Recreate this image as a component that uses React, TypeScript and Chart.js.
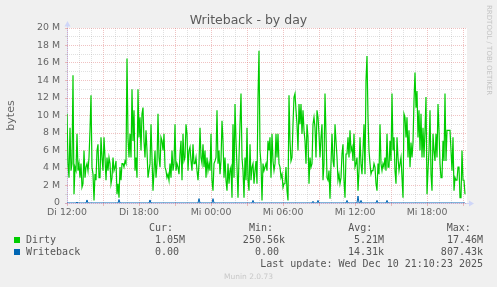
import React, { useEffect, useRef } from 'react';
import { Chart, registerables } from 'chart.js';

Chart.register(...registerables);

// Dirty memory (in M bytes), one value per 5-minute step starting Di 12:00
const dirtySeg1 = [10.2,4.5,2.9,8.6,3.7,4.5,14.6,1.0,4.1,3.7,7.9,3.7,4.5,2.9,4.5,1.8,2.2,6.0,2.9,4.1,4.5,3.7,5.2,8.3,12.3,4.1,3.3,0.3,3.3,2.6,6.0,6.7,2.9,2.9,7.5,5.2,3.7,7.5,5.2,2.6,5.2,3.7,5.2,4.5,2.2,2.9,5.2,3.7,4.1,4.8,1.0,2.2,0.6,4.1,2.6,4.5,4.5,4.1,4.8,4.5,16.5,7.5,5.2];
const dirtySeg2 = [7.9,5.2,13.0,7.1,10.6,3.7,5.2,2.9,13.0,7.5,9.8,6.0,10.2,10.9,7.1,5.2,8.3,6.0,2.9,3.7,4.5,9.0,5.2,1.4,3.7,6.0,2.9,4.5,10.2,5.2,4.1,7.5,7.1,6.0,7.9,4.1,3.7,2.9,3.3,2.6,4.5,2.9,6.0,3.7,4.5,9.0,3.7,4.5,4.1,3.3,5.6,7.1,2.6,7.9,4.8,5.2,9.0,7.9,3.7,6.0,6.4,4.8,3.7,6.7,4.5,4.5,5.2,3.7];
const dirtySeg3 = [2.6,4.5,8.6,5.2,4.5,6.7,4.1,6.0,2.9,5.2,3.7,4.5,3.7,7.9,2.6,1.4,4.5,4.8,5.2,10.6,4.5,6.0,3.3,4.8,9.4,7.1,2.9,5.2,2.6,1.4,4.5,2.2,3.7,4.1,0.6,9.0,2.9,11.3,7.1,4.1,0.6,5.2,9.0,12.5,5.2,3.7,0.6,5.2,2.6,8.6,2.6,1.4,6.7,2.6,4.1,4.5,2.2,3.7,4.8,2.2,12.1,17.4,6.0,4.5,0.3,4.5,3.7,4.1];
const dirtySeg4 = [4.5,3.7,7.1,6.0,7.5,2.9,7.9,4.8,3.7,4.5,7.9,5.2,7.9,4.5,4.1,2.9,3.3,1.8,2.2,2.2,4.1,1.4,0.3,12.3,7.1,4.8,5.2,9.0,12.1,12.5,10.6,9.0,6.0,11.3,9.0,11.3,7.9,10.6,8.3,7.1,4.5,9.0,7.5,2.2,5.2,4.1,4.5,9.0,9.8,8.6,5.2,10.6,9.8,7.9,5.2,7.5,9.0,2.6,4.5,12.5,7.9,2.9,2.6,3.7,0.5,4.5,7.9,4.8];
const dirtySeg5 = [4.1,9.0,7.1,5.2,2.6,3.3,2.2,2.9,5.6,6.7,2.6,0.6,5.6,5.6,7.5,5.2,8.3,6.0,6.4,4.8,7.9,4.1,4.5,5.2,1.4,3.7,7.5,4.5,3.3,6.0,9.0,3.3,14.0,16.8,9.8,6.0,4.5,3.3,3.7,3.7,4.5,4.1,2.2,1.4,4.5,3.3,9.0,4.5,3.7,4.5,4.1,5.2,3.7,7.9,4.1,4.1,7.1,4.8,12.5,6.0,7.5,3.7,2.2,7.5,5.2,3.7,4.5,5.2];
const dirtySeg6 = [2.9,0.6,10.2,9.8,7.5,9.8,5.2,8.3,4.1,6.9,5.2,6.9,11.7,14.9,10.9,12.8,7.5,10.6,6.0,10.2,5.2,8.6,5.2,8.3,12.1,1.0,3.7,6.0,10.6,3.3,1.4,7.9,6.0,4.8,7.9,5.2,11.3,8.3,4.5,2.9,2.9,7.1,4.8,12.5,4.8,8.3,8.3,8.3,8.3,6.0,3.7,7.5,1.4,2.9,2.6,2.6,4.1,4.1,0.6,0.6,6.0,2.6,2.6,1.0];

// Writeback (in M bytes): zero except for these steps
const writebackSpikeIndex = [10, 20, 52, 83, 132, 146, 186, 246, 251, 280, 291, 294, 310, 320];
const writebackSpikeValue = [0.1, 0.35, 0.4, 0.35, 0.5, 0.5, 0.3, 0.2, 0.3, 0.3, 0.8, 0.3, 0.3, 0.3];

const xTickLabels = ['Di 12:00', 'Di 18:00', 'Mi 00:00', 'Mi 06:00', 'Mi 12:00', 'Mi 18:00'];
const stepsPerHour = 12;
const totalSteps = 400;
const yMax = 20;

const legendNames = ['Dirty', 'Writeback'];
const legendColors = ['#00cc00', '#0066b3'];
const legendCur = ['1.05M', '0.00'];
const legendMin = ['250.56k', '0.00'];
const legendAvg = ['5.21M', '14.31k'];
const legendMax = ['17.46M', '807.43k'];

const GRID_MAJOR = 'rgba(220,110,110,0.42)';
const GRID_MINOR = 'rgba(160,160,160,0.32)';
const AXIS = '#cfd6f8';
const FONT_COLOR = '#666666';

const muninPlugin = {
  id: 'munin',
  beforeDraw(chart: any) {
    const { ctx, chartArea: a } = chart;
    ctx.save();
    ctx.fillStyle = '#f0f0f0';
    ctx.fillRect(0, 0, chart.width, chart.height);
    ctx.fillStyle = '#ffffff';
    ctx.fillRect(a.left, a.top, a.right - a.left, a.bottom - a.top);
    // axes
    ctx.strokeStyle = AXIS;
    ctx.fillStyle = AXIS;
    ctx.lineWidth = 1;
    ctx.beginPath();
    ctx.moveTo(a.left - 2, a.bottom + 0.5);
    ctx.lineTo(a.right + 4, a.bottom + 0.5);
    ctx.moveTo(a.left + 0.5, a.bottom + 2);
    ctx.lineTo(a.left + 0.5, a.top - 3);
    ctx.stroke();
    ctx.beginPath();
    ctx.moveTo(a.right + 7, a.bottom + 0.5);
    ctx.lineTo(a.right + 2, a.bottom - 2.5);
    ctx.lineTo(a.right + 2, a.bottom + 3.5);
    ctx.closePath();
    ctx.fill();
    ctx.beginPath();
    ctx.moveTo(a.left + 0.5, a.top - 7);
    ctx.lineTo(a.left - 2.5, a.top - 1.5);
    ctx.lineTo(a.left + 3.5, a.top - 1.5);
    ctx.closePath();
    ctx.fill();
    ctx.restore();
  },
  afterDraw(chart: any) {
    const { ctx, chartArea: a } = chart;
    ctx.save();
    // title
    ctx.fillStyle = '#5a5a5a';
    ctx.font = '12.5px "DejaVu Sans"';
    ctx.textAlign = 'center';
    ctx.textBaseline = 'alphabetic';
    ctx.fillText('Writeback - by day', 248.5, 24);
    // y-axis title
    ctx.save();
    ctx.translate(11, (a.top + a.bottom) / 2);
    ctx.rotate(-Math.PI / 2);
    ctx.fillStyle = FONT_COLOR;
    ctx.font = '11px "DejaVu Sans"';
    ctx.textAlign = 'center';
    ctx.textBaseline = 'middle';
    ctx.fillText('bytes', 0, 0);
    ctx.restore();
    // watermark
    ctx.save();
    ctx.translate(488.5, 5);
    ctx.rotate(Math.PI / 2);
    ctx.fillStyle = '#c4c4c4';
    ctx.font = '7px "DejaVu Sans"';
    ctx.textAlign = 'left';
    ctx.textBaseline = 'middle';
    ctx.fillText('RRDTOOL / TOBI OETIKER', 0, 0);
    ctx.restore();
    // legend
    ctx.font = '10px "DejaVu Sans Mono"';
    ctx.fillStyle = '#555555';
    ctx.textAlign = 'left';
    ctx.textBaseline = 'alphabetic';
    ctx.fillText('Cur:', 149, 231);
    ctx.fillText('Min:', 249, 231);
    ctx.fillText('Avg:', 348.3, 231);
    ctx.fillText('Max:', 446.7, 231);
    const rows = [243, 255];
    for (let i = 0; i < legendNames.length; i++) {
      const y = rows[i];
      ctx.fillStyle = legendColors[i];
      ctx.fillRect(14, y - 6, 6, 6);
      ctx.fillStyle = '#555555';
      ctx.textAlign = 'left';
      ctx.fillText(legendNames[i], 26, y);
      ctx.textAlign = 'right';
      ctx.fillText(legendCur[i] + (legendCur[i].match(/[kM]$/) ? '' : ' '), 185, y);
      ctx.fillText(legendMin[i] + (legendMin[i].match(/[kM]$/) ? '' : ' '), 285, y);
      ctx.fillText(legendAvg[i] + (legendAvg[i].match(/[kM]$/) ? '' : ' '), 384, y);
      ctx.fillText(legendMax[i] + (legendMax[i].match(/[kM]$/) ? '' : ' '), 483, y);
    }
    ctx.textAlign = 'right';
    ctx.fillText('Last update: Wed Dec 10 21:10:23 2025', 483, 267);
    ctx.textAlign = 'center';
    ctx.fillStyle = '#c8c8c8';
    ctx.font = '7.5px "DejaVu Sans"';
    ctx.fillText('Munin 2.0.73', 248.5, 279);
    ctx.restore();
  },
};

export default function App() {
  const canvasRef = useRef<HTMLCanvasElement | null>(null);

  useEffect(() => {
    const canvas = canvasRef.current;
    if (!canvas) return;
    const dirtyValues = [...dirtySeg1, ...dirtySeg2, ...dirtySeg3, ...dirtySeg4, ...dirtySeg5, ...dirtySeg6];
    const dirtyData = dirtyValues.map((v, i) => ({ x: i, y: v }));
    const writebackData = dirtyValues.map((_, i) => {
      const k = writebackSpikeIndex.indexOf(i);
      return { x: i, y: k >= 0 ? writebackSpikeValue[k] : 0 };
    });

    const chart = new Chart(canvas, {
      type: 'line',
      data: {
        datasets: [
          { label: 'Writeback', data: writebackData, borderColor: '#0066b3', borderWidth: 1, pointRadius: 0, order: 0, tension: 0 },
          { label: 'Dirty', data: dirtyData, borderColor: '#00cc00', borderWidth: 1.2, pointRadius: 0, order: 1, tension: 0 },
        ],
      },
      options: {
        animation: false,
        responsive: false,
        devicePixelRatio: 1,
        events: [],
        layout: { padding: { left: 0, top: 28, right: 30, bottom: 64 } },
        plugins: {
          legend: { display: false },
          tooltip: { enabled: false },
          title: { display: false },
        },
        scales: {
          x: {
            type: 'linear',
            min: 0,
            max: totalSteps,
            afterFit: (s: any) => { s.height = 20; },
            border: { display: false, dash: [1, 1] },
            grid: {
              color: (c: any) => (c.tick && c.tick.value % (3 * stepsPerHour) === 0 ? GRID_MAJOR : GRID_MINOR),
              tickColor: (c: any) => (c.tick && c.tick.value % (3 * stepsPerHour) === 0 ? GRID_MAJOR : 'rgba(0,0,0,0)'),
              tickLength: 3,
              tickBorderDash: [],
              lineWidth: 1,
            },
            ticks: {
              stepSize: stepsPerHour,
              includeBounds: false,
              autoSkip: false,
              maxRotation: 0,
              minRotation: 0,
              padding: 1,
              color: FONT_COLOR,
              font: { family: 'DejaVu Sans', size: 9.4 },
              callback: (v: any) => {
                const n = Number(v);
                return n % (6 * stepsPerHour) === 0 ? xTickLabels[n / (6 * stepsPerHour)] ?? '' : '';
              },
            },
          },
          y: {
            min: 0,
            max: yMax,
            afterFit: (s: any) => { s.width = 67; },
            border: { display: false, dash: [1, 1] },
            grid: {
              color: (c: any) => (c.tick && c.tick.value % 2 === 0 ? GRID_MAJOR : GRID_MINOR),
              tickColor: (c: any) => (c.tick && c.tick.value % 2 === 0 ? GRID_MAJOR : GRID_MINOR),
              tickLength: 2,
              tickBorderDash: [],
              lineWidth: 1,
            },
            ticks: {
              stepSize: 1,
              autoSkip: false,
              padding: 5,
              color: FONT_COLOR,
              font: { family: 'DejaVu Sans', size: 9.4 },
              callback: (v: any) => {
                const n = Number(v);
                if (n % 2 !== 0) return '';
                return n === 0 ? '0' : `${n} M`;
              },
            },
          },
        },
      },
      plugins: [muninPlugin],
    } as any);

    return () => chart.destroy();
  }, []);

  return (
    <div style={{ position: 'fixed', left: 0, top: 0, width: 497, height: 287, background: '#f0f0f0' }}>
      <canvas ref={canvasRef} width={497} height={287} style={{ display: 'block', width: 497, height: 287 }} />
    </div>
  );
}
